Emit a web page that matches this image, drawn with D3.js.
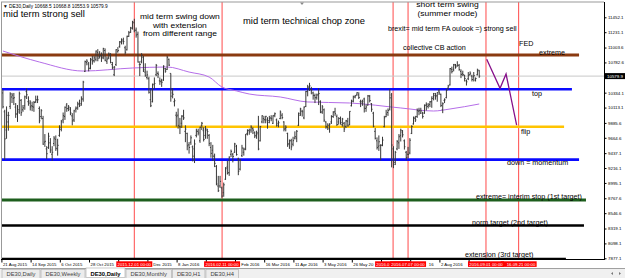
<!DOCTYPE html>
<html><head><meta charset="utf-8">
<script src="https://cdn.jsdelivr.net/npm/d3@7"></script>
<style>
html,body{margin:0;padding:0;background:#fff;overflow:hidden}
svg{display:block;font-family:"Liberation Sans",Arial,sans-serif}
</style></head><body>
<svg id="c" width="625" height="278"></svg>
<script>
// ---------------- DATA (DE30 daily, 21 Aug 2015 .. 31 Aug 2016, bar index 0..261) ----------------
const barOpen = [
10330,10050,9780,9900,10130,10270,10250,10120,10020,10080,
10220,10080,10140,10350,10200,10180,10140,10120,10200,10230,
10100,9980,9950,9600,9500,9520,9590,9420,9580,9640,
9500,9700,9790,9930,9980,10150,10100,10090,9990,9930,
10090,10110,10170,10170,10240,10650,10780,10760,10700,10820,
10810,10830,10930,10870,10880,10860,10960,10800,10850,10890,
10750,10600,10750,10940,11020,11090,11100,11000,10970,11170,
11230,11290,11370,11260,11200,10750,10800,10860,10640,10560,
10540,10230,10200,10460,10600,10620,10510,10510,10520,10690,
10680,10830,10620,10330,10200,10000,10000,9830,9880,9990,
9760,9730,9560,9600,9530,9500,9700,9760,9620,9850,
9770,9700,9780,9700,9520,9480,9390,9240,8950,8950,
8920,8850,9050,9230,9150,9420,9420,9450,9540,9350,
9200,9400,9450,9500,9730,9770,9780,9800,9740,9700,
9740,9620,9900,9950,9930,9930,9920,9960,9880,10000,
9930,9880,9950,10000,9900,9800,9730,9580,9620,9570,
9660,9660,9850,10000,10060,9960,10130,10350,10410,10380,
10330,10290,10260,10310,10200,10050,10080,9900,9820,9800,
9900,9980,10050,9980,9900,9950,9860,9880,9830,9910,
9860,10140,10210,10270,10300,10300,10200,10180,10240,10100,
10150,10280,10170,10030,9760,9620,9540,9550,9560,9830,
9980,10040,10090,10300,9500,9300,9500,9590,9700,9750,
9620,9450,9420,9440,9730,9870,9950,9980,10060,10030,
10030,10030,10150,10130,10160,10200,10270,10290,10290,10360,
10310,10080,10220,10260,10400,10450,10680,10680,10740,10730,
10740,10650,10620,10590,10510,10540,10600,10580,10570,10520,
10600,10668.5];
const barHigh = [
10380,10080,10130,10050,10340,10330,10330,10180,10150,10350,
10240,10150,10290,10400,10280,10220,10200,10210,10290,10290,
10130,10090,9990,9720,9540,9740,9660,9540,9690,9700,
9650,9850,9930,10040,10130,10180,10150,10120,10030,10080,
10130,10200,10230,10280,10510,10810,10830,10790,10850,10880,
10880,10960,10980,10950,10930,11000,10990,10870,10930,10920,
10790,10730,10980,11010,11100,11140,11150,11030,11180,11250,
11310,11400,11430,11300,11240,10800,10920,10880,10770,10660,
10570,10390,10470,10560,10760,10650,10560,10540,10740,10700,
10880,10840,10620,10400,10250,10050,10100,9960,10000,10080,
9850,9740,9600,9700,9550,9640,9800,9800,9830,9900,
9820,9840,9800,9720,9600,9560,9430,9260,9100,9100,
8940,9000,9230,9320,9390,9490,9440,9590,9560,9370,
9350,9560,9520,9720,9790,9800,9850,9820,9760,9770,
9990,9840,10000,9990,9990,9970,9990,10000,10000,10040,
9950,9920,10070,10030,9910,9850,9740,9640,9650,9680,
9760,9780,10040,10110,10080,10130,10360,10450,10480,10420,
10350,10320,10320,10400,10220,10150,10100,9910,9880,9880,
10000,10060,10110,10010,9970,9980,9960,9900,9930,9960,
10060,10230,10290,10300,10340,10340,10230,10230,10260,10160,
10300,10300,10180,10050,9810,9670,9700,9570,9680,9990,
10080,10100,10390,10330,9540,9470,9630,9720,9800,9780,
9640,9470,9530,9660,9850,9980,9990,10100,10110,10110,
10050,10160,10190,10180,10210,10280,10330,10330,10340,10390,
10320,10190,10250,10390,10450,10700,10720,10760,10760,10800,
10760,10680,10660,10600,10530,10640,10650,10600,10640,10560,
10690,10668.8];
const barLow = [
10100,9338,9650,9770,10090,10180,10150,9960,9900,10020,
9990,10050,10080,10240,10140,10070,10060,10050,10180,10180,
9880,9940,9560,9530,9350,9500,9440,9325,9540,9470,
9400,9680,9760,9880,9930,10050,10060,10000,9850,9900,
10040,10080,10120,10140,10200,10640,10740,10650,10680,10750,
10780,10800,10800,10840,10790,10830,10800,10760,10830,10770,
10680,10580,10730,10930,11000,11050,11050,10900,10960,11160,
11220,11270,11230,11150,10780,10580,10770,10640,10570,10530,
10320,10120,10190,10390,10580,10550,10450,10420,10510,10630,
10670,10730,10200,10250,10130,9830,9800,9720,9810,9930,
9600,9480,9430,9560,9314,9290,9670,9700,9590,9780,
9610,9650,9650,9540,9370,9320,9230,8960,8860,8920,
8775,8790,9040,9120,9100,9380,9300,9440,9400,9110,
9180,9380,9400,9480,9700,9710,9740,9720,9660,9650,
9480,9610,9880,9880,9880,9800,9880,9910,9870,9970,
9830,9820,9940,9940,9760,9760,9530,9500,9480,9540,
9640,9600,9840,9990,9980,9940,10120,10280,10360,10310,
10230,10180,10230,10150,10030,10020,9900,9800,9780,9740,
9870,9960,9990,9840,9860,9860,9830,9750,9810,9830,
9850,10130,10190,10250,10290,10240,10120,10140,10040,10050,
10140,10190,10050,9820,9640,9490,9470,9330,9540,9820,
9970,9990,10070,9226,9214,9260,9480,9500,9610,9670,
9490,9330,9360,9420,9720,9860,9900,9960,10000,10020,
9950,10020,10070,10100,10120,10110,10220,10230,10200,10300,
10120,10030,10180,10250,10380,10440,10620,10650,10690,10720,
10660,10550,10580,10500,10440,10520,10590,10500,10500,10500,
10590,10553.9];
const barClose = [
10124,9648,9998,9997,10315,10298,10259,10016,10048,10318,
10038,10108,10272,10303,10210,10123,10131,10188,10227,10229,
9916,10066,9571,9612,9428,9688,9484,9450,9660,9509,
9553,9815,9902,9994,10118,10097,10119,10033,9915,10064,
10104,10165,10147,10239,10491,10795,10801,10692,10832,10801,
10850,10951,10846,10887,10845,10988,10815,10833,10907,10782,
10708,10713,10971,10960,11085,11120,11092,10934,11170,11222,
11294,11382,11261,11190,10789,10752,10887,10673,10592,10598,
10340,10140,10450,10470,10738,10608,10497,10489,10727,10653,
10860,10743,10283,10310,10214,9979,9849,9825,9985,9960,
9794,9545,9521,9664,9392,9574,9764,9736,9822,9880,
9640,9798,9757,9581,9434,9393,9286,8979,8880,9018,
8800,8967,9206,9135,9377,9463,9388,9573,9416,9167,
9331,9513,9495,9717,9776,9751,9824,9778,9692,9723,
9498,9831,9990,9933,9983,9892,9950,9948,9990,10022,
9851,9888,10046,9965,9794,9822,9563,9624,9530,9622,
9682,9761,10027,10093,10051,10120,10350,10421,10435,10373,
10294,10259,10299,10321,10039,10123,9926,9829,9851,9870,
9980,10045,10022,9862,9952,9890,9943,9796,9916,9842,
10057,10205,10272,10287,10333,10263,10205,10208,10103,10121,
10287,10217,10088,9834,9657,9519,9606,9550,9631,9962,
10015,10071,10257,9557,9268,9448,9612,9680,9776,9709,
9532,9373,9418,9629,9833,9964,9930,10068,10066,10063,
9981,10142,10156,10147,10198,10247,10319,10275,10337,10330,
10144,10170,10228,10367,10432,10692,10650,10753,10713,10740,
10676,10603,10603,10544,10495,10592,10623,10529,10587,10545,
10657,10579.9];

// moving average (read at sample bars)
const maIdx = [0, 20, 44, 71, 90, 102, 113, 120, 128, 135, 152, 167, 190, 218, 236, 245, 261];
const maVal = [10952, 10789, 10655, 10700, 10715, 10640, 10566, 10418, 10360, 10314, 10270, 10196, 10181, 10107, 10062, 10092, 10166];

// hand-drawn projection
const projIdx = [265.1, 272.4, 275.7, 281.5];
const projVal = [10829, 10399, 10611, 9854];

// horizontal levels
const levelVal    = [10893, 10385, 9829, 9340, 8742, 8364, 7870];
const levelEndIdx = [315.7, 311.8, 307.5, 315.7, 319.5, 318.4, 308.5];

// vertical events
const eventIdx    = [72.0, 120.1, 213.8, 222.0, 264.7, 282.6];
const eventLabels = ["2015.12.01 00:00","2016.02.11 00:00","2016.06.24 00:00","2016.07.07 00:00","2016.09.01 00:00","2016.09.21 00:00"];
const eventLayer  = [0, 0, 0, 1, 1, 0];

// axes
const priceTicks = [7877.1,8098.1,8319.1,8546.6,8767.6,8995.1,9216.1,9437.1,9664.6,9885.6,10113.1,10334.1,10561.6,10782.6,11003.6,11231.1,11452.1];
const lastPrice = 10579.9;
const dateTickIdx = [0,16,32,48,64,80,96,112,128,144,160,176,192,208,224,240,256];
const dateTickLabels = ["21 Aug 2015","14 Sep 2015","6 Oct 2015","28 Oct 2015","19 Nov 2015","11 Dec 2015","8 Jan 2016","1 Feb 2016","23 Feb 2016","16 Mar 2016","11 Apr 2016","3 May 2016","26 May 2016","17 Jun 2016","11 Jul 2016","2 Aug 2016","24 Aug 2016"];
const tabNames = ["DE30,Daily","DE30,Weekly","DE30,Daily","DE30,Monthly","DE30,H1","DE30,H4"];
const activeTab = 2;
const headerText = "\u25BC DE30,Daily  10668.5 10668.8 10553.9 10579.9";

// ---------------- DRAWING ----------------
const svg = d3.select("#c");
const plotL = 1, plotR = 604, plotT = 2, plotB = 259.5;
const nBars = barClose.length;
const xs = d3.scaleLinear().domain([0, nBars - 1]).range([2.9, 2.9 + (nBars - 1) * 1.825]);
const ys = d3.scaleLinear().domain([7877.1, 11452.1]).range([258.3, 17.3]);

svg.append("rect").attr("width", 625).attr("height", 278).attr("fill", "#fff");

svg.append("defs").append("clipPath").attr("id", "plot")
  .append("rect").attr("x", plotL).attr("y", plotT).attr("width", plotR - plotL).attr("height", plotB - plotT + 1);
const g = svg.append("g").attr("clip-path", "url(#plot)");

// event vertical lines
g.selectAll("line.ev").data(eventIdx).join("line")
  .attr("x1", d => xs(d)).attr("x2", d => xs(d)).attr("y1", plotT).attr("y2", plotB)
  .attr("stroke", "#ff4a4a").attr("stroke-width", 1);

// current price line
g.append("line").attr("x1", plotL).attr("x2", plotR).attr("y1", ys(lastPrice)).attr("y2", ys(lastPrice))
  .attr("stroke", "#c8c8c8").attr("stroke-width", 1);

// levels
const levelColor = ["#8a3a10", "#0a0aff", "#ffc400", "#0a0aff", "#1d5e1d", "#000000", "#000000"];
const levelWidth = [3, 2.6, 2.6, 2.8, 3, 2.6, 2];
g.selectAll("line.lv").data(levelVal).join("line")
  .attr("x1", plotL).attr("x2", (d, i) => xs(levelEndIdx[i]))
  .attr("y1", d => ys(d)).attr("y2", d => ys(d))
  .attr("stroke", (d, i) => levelColor[i]).attr("stroke-width", (d, i) => levelWidth[i]);

// moving average
g.append("path").datum(maIdx.map((d, i) => [d, maVal[i]]))
  .attr("fill", "none").attr("stroke", "#b56ee8").attr("stroke-width", 1)
  .attr("d", d3.line().x(d => xs(d[0])).y(d => ys(d[1])).curve(d3.curveMonotoneX));

// OHLC bars
const bars = g.append("g").attr("stroke", "#383838").attr("stroke-width", 1);
d3.range(nBars).forEach(i => {
  const x = xs(i);
  bars.append("line").attr("x1", x).attr("x2", x).attr("y1", ys(barHigh[i])).attr("y2", ys(barLow[i]));
  bars.append("line").attr("x1", x - 1).attr("x2", x).attr("y1", ys(barOpen[i])).attr("y2", ys(barOpen[i]));
  bars.append("line").attr("x1", x).attr("x2", x + 1).attr("y1", ys(barClose[i])).attr("y2", ys(barClose[i]));
});

// projection
g.append("path").datum(projIdx.map((d, i) => [d, projVal[i]]))
  .attr("fill", "none").attr("stroke", "#86108a").attr("stroke-width", 1.3)
  .attr("d", d3.line().x(d => xs(d[0])).y(d => ys(d[1])));

// annotations (anchored in data coordinates)
const annos = [
  {t: ["mid term strong sell"], i: 0.05, p: 11456, s: 9.4, a: "start"},
  {t: ["mid term swing down", "with extension", "from different range"], i: 97, p: 11296, s: 7.3, w: 8.5, a: "middle", lh: 8.5},
  {t: ["mid term technical chop zone"], i: 131.6, p: 11352, s: 9.4, a: "start"},
  {t: ["short term swing", "(summer mode)"], i: 243.6, p: 11535, s: 7.3, w: 8.5, a: "middle", lh: 8.5},
  {t: ["brexit= mid term FA oulook =) strong sell"], i: 211.0, p: 11256, s: 7.2, a: "start"},
  {t: ["collective CB action"], i: 219.2, p: 10960, s: 7.2, a: "start"},
  {t: ["FED"], i: 282.8, p: 11019, s: 7.2, a: "start"},
  {t: ["extreme"], i: 293.8, p: 10900, s: 7.2, a: "start"},
  {t: ["top"], i: 289.9, p: 10285, s: 7.2, a: "start"},
  {t: ["flip"], i: 283.9, p: 9721, s: 7.2, a: "start"},
  {t: ["down = momentum"], i: 276.2, p: 9261, s: 7.2, a: "start"},
  {t: ["extreme= interim stop (1st target)"], i: 259.2, p: 8764, s: 7.2, a: "start"},
  {t: ["norm target (2nd target)"], i: 257.0, p: 8378, s: 7.2, a: "start"},
  {t: ["extension (3rd target)"], i: 253.2, p: 7896, s: 7.2, a: "start"}
];
annos.forEach(d => {
  const n = d.t.length;
  d.t.forEach((line, k) => {
    // multi-line blocks are centred on their anchor price
    const y = n === 1 ? ys(d.p) : ys(d.p) + (k - (n - 1) / 2) * d.lh;
    const t = svg.append("text").attr("x", xs(d.i)).attr("y", y)
      .attr("font-size", d.w || d.s).attr("text-anchor", d.a).attr("fill", "#000").text(line);
    if (d.w) {
      const natural = t.node().getComputedTextLength();
      t.attr("font-size", d.s).attr("textLength", natural).attr("lengthAdjust", "spacingAndGlyphs");
    }
  });
});

// header
svg.append("text").attr("x", 3).attr("y", 7.6).attr("font-size", 4.8).attr("fill", "#000").text(headerText);
// shift marker
svg.append("path").attr("d", "M300,2.5 L304,2.5 L302,5 Z").attr("fill", "#888");

// frame
svg.append("line").attr("x1", plotL).attr("x2", plotR).attr("y1", plotT).attr("y2", plotT).attr("stroke", "#999");
svg.append("line").attr("x1", plotL + 0.5).attr("x2", plotL + 0.5).attr("y1", plotT).attr("y2", plotB).attr("stroke", "#999");
svg.append("line").attr("x1", plotR + 0.5).attr("x2", plotR + 0.5).attr("y1", plotT).attr("y2", plotB).attr("stroke", "#000");
svg.append("line").attr("x1", plotL).attr("x2", plotR + 1).attr("y1", plotB).attr("y2", plotB).attr("stroke", "#000");

// price axis
const yAxis = d3.axisRight(ys).tickValues(priceTicks.filter(v => Math.abs(ys(v) - ys(lastPrice)) > 4))
  .tickFormat(d => d.toFixed(1)).tickSize(2).tickPadding(1.5);
const ya = svg.append("g").attr("transform", `translate(${plotR + 0.5},0)`).call(yAxis);
ya.select(".domain").remove();
ya.selectAll("text").attr("font-size", 4.4).attr("font-family", "Liberation Sans, Arial, sans-serif").attr("fill", "#000");
ya.selectAll("line").attr("stroke", "#000");
// last price box
svg.append("rect").attr("x", plotR + 1).attr("y", ys(lastPrice) - 3).attr("width", 21).attr("height", 6).attr("fill", "#000");
svg.append("text").attr("x", plotR + 3).attr("y", ys(lastPrice) + 1.6).attr("font-size", 4.4).attr("fill", "#fff").text(lastPrice.toFixed(1));

// ---- date axis with MT4-style overlapping red event labels ----
const FS = 4.3, BOXW = 36;
const tmp = svg.append("text").attr("font-size", FS).attr("opacity", 0);
const tw = s => { tmp.text(s); return s.length ? tmp.node().getComputedTextLength() : 0; };
function fit(str, x0, lo, hi) {
  let s = 0, e = str.length;
  while (s < e && x0 + tw(str.slice(0, s)) < lo) s++;
  while (s < e && str[s] === " ") s++;
  while (e > s && x0 + tw(str.slice(0, e)) > hi) e--;
  return {x: x0 + tw(str.slice(0, s)), t: str.slice(s, e).trim()};
}
const boxes = eventIdx.map(d => [xs(d) - BOXW / 2, xs(d) + BOXW / 2]);
const dg = svg.append("g");
dateTickIdx.forEach((d, k) => {
  dg.append("line").attr("x1", xs(d) - 1).attr("x2", xs(d) - 1).attr("y1", plotB).attr("y2", plotB + 3).attr("stroke", "#000");
  const x0 = xs(d), w = tw(dateTickLabels[k]);
  let lo = -1e9, hi = 1e9;
  boxes.forEach(b => {
    if (b[0] <= x0 + 0.5 && b[1] > x0) lo = Math.max(lo, b[1] + 0.6);
    if (b[0] > x0 && b[0] < x0 + w) hi = Math.min(hi, b[0] - 0.6);
  });
  const f = fit(dateTickLabels[k], x0, lo, hi);
  if (f.t.length) dg.append("text").attr("x", f.x).attr("y", 265.8).attr("font-size", FS).attr("fill", "#000").text(f.t);
});
eventIdx.forEach((d, k) => {
  dg.append("rect").attr("x", boxes[k][0]).attr("y", 261.3).attr("width", BOXW).attr("height", 5.6).attr("fill", "#ff0000");
});
eventIdx.forEach((d, k) => {
  const w = tw(eventLabels[k]);
  const x0 = xs(d) - w / 2;
  let lo = -1e9, hi = 1e9;
  boxes.forEach((b, j) => {
    if (j === k || eventLayer[j] <= eventLayer[k]) return;
    if (b[0] <= x0 && b[1] > x0) lo = Math.max(lo, b[1] + 0.4);
    if (b[0] > x0 && b[0] < x0 + w) hi = Math.min(hi, b[0] - 0.4);
  });
  const f = fit(eventLabels[k], x0, lo, hi);
  if (f.t.length) dg.append("text").attr("x", f.x).attr("y", 265.6).attr("font-size", FS).attr("fill", "#fff").text(f.t);
});
tmp.remove();

// tab bar
svg.append("rect").attr("x", 0).attr("y", 268.5).attr("width", 625).attr("height", 10).attr("fill", "#f0f0f0");
svg.append("line").attr("x1", 0).attr("x2", 625).attr("y1", 268.5).attr("y2", 268.5).attr("stroke", "#a0a0a0");
let tx = 2;
tabNames.forEach((name, k) => {
  const tg = svg.append("g");
  const t = tg.append("text").attr("y", 276.3).attr("font-size", 5.8).attr("fill", k === activeTab ? "#000" : "#444")
    .attr("font-weight", k === activeTab ? "bold" : "normal").text(name);
  const w = t.node().getComputedTextLength() + 9;
  tg.insert("rect", "text").attr("x", tx).attr("y", k === activeTab ? 268 : 269.5).attr("width", w).attr("height", 9.5)
    .attr("fill", k === activeTab ? "#fff" : "#ececec").attr("stroke", "#a8a8a8").attr("stroke-width", 0.6);
  t.attr("x", tx + 4.5);
  tx += w + 1;
});
// scroll arrows
svg.append("path").attr("d", "M611,273.5 L613,272 L613,275 Z").attr("fill", "#777");
svg.append("path").attr("d", "M621,273.5 L619,272 L619,275 Z").attr("fill", "#777");
</script>
</body></html>
